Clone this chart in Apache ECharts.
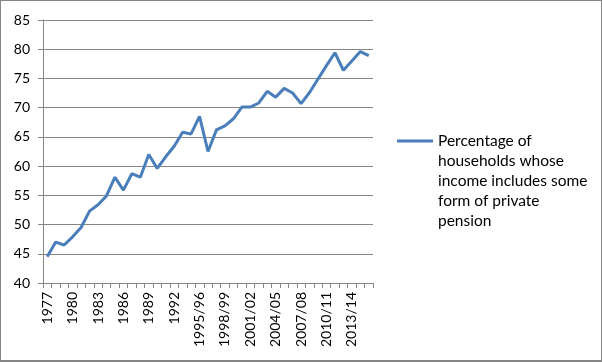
<!DOCTYPE html>
<html><head><meta charset="utf-8">
<script src="https://cdn.jsdelivr.net/npm/echarts@6/dist/echarts.min.js"></script>
<style>
html,body{margin:0;padding:0;background:#fff;}
#c{width:600px;height:359px;border:1px solid #868686;border-bottom-width:2px;}
</style></head>
<body><div id="c"></div>
<script>
const categories = ['1977','1978','1979','1980','1981','1982','1983','1984','1985','1986','1987','1988','1989','1990','1991','1992','1993','1994/95','1995/96','1996/97','1997/98','1998/99','1999/00','2000/01','2001/02','2002/03','2003/04','2004/05','2005/06','2006/07','2007/08','2008/09','2009/10','2010/11','2011/12','2012/13','2013/14','2014/15','2015/16'];
const values = [44.5,47.0,46.5,47.9,49.5,52.3,53.4,54.9,58.1,55.9,58.7,58.1,62.0,59.6,61.6,63.4,65.8,65.5,68.5,62.5,66.2,66.9,68.1,70.1,70.1,70.8,72.8,71.8,73.3,72.5,70.7,72.6,74.9,77.2,79.4,76.4,78.0,79.6,78.9];
const seriesName = 'Percentage of\nhouseholds whose\nincome includes some\nform of private\npension';
const yTicks = {min:40, max:85, interval:5};

const chart = echarts.init(document.getElementById('c'));
const FONT = 'Lato';
chart.setOption({
  animation:false,
  textStyle:{fontFamily:FONT},
  grid:{left:42, right:228, top:19, bottom:77, containLabel:false},
  legend:{
    left:396, top:50, orient:'vertical', padding:0,
    itemWidth:36, itemHeight:3, itemGap:0,
    icon:'rect',
    formatter: n => '\n\n\n\n' + n,
    textStyle:{fontFamily:FONT, fontSize:15.5, color:'#000', lineHeight:20},
    data:[{name:seriesName, itemStyle:{color:'#4A7EBB'}}]
  },
  xAxis:{
    type:'category', data:categories, boundaryGap:true,
    axisLine:{lineStyle:{color:'#868686', width:1}},
    axisTick:{show:true, interval:0, length:5, lineStyle:{color:'#868686'}},
    axisLabel:{interval:2, rotate:90, fontSize:14, color:'#000', margin:9, fontFamily:FONT}
  },
  yAxis:{
    type:'value', min:yTicks.min, max:yTicks.max, interval:yTicks.interval,
    axisLine:{show:true, lineStyle:{color:'#868686', width:1}},
    axisTick:{show:true, length:5, lineStyle:{color:'#868686'}},
    axisLabel:{fontSize:14, color:'#000', margin:13, fontFamily:FONT},
    splitLine:{lineStyle:{color:'#868686', width:1}}
  },
  series:[{
    name:seriesName, type:'line', data:values, symbol:'none',
    lineStyle:{color:'#4A7EBB', width:3}, itemStyle:{color:'#4A7EBB'}
  }]
});
</script></body></html>
